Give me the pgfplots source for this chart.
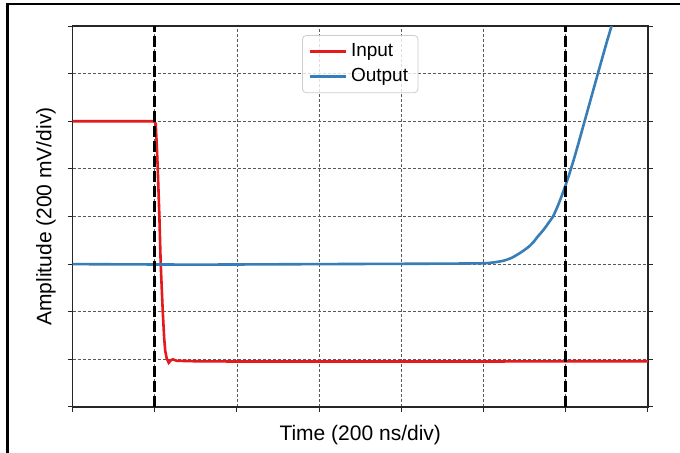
\documentclass[border=0pt]{standalone}
\usepackage{fontspec}
\setmainfont{Liberation Sans}
\usepackage{pgfplots}
\pgfplotsset{compat=1.18}

\definecolor{inred}{RGB}{228,26,28}
\definecolor{outblue}{RGB}{55,126,184}

\begin{document}
\begin{tikzpicture}
% page frame of the reference (1px = 0.5pt)
\useasboundingbox (-36.25pt,-23pt) rectangle (303.75pt,203.5pt);
\fill[white] (-36.25pt,-23pt) rectangle (303.75pt,203.5pt);
\draw[line width=1.4pt] (-32.5pt,-23pt) -- (-32.5pt,201.5pt) -- (303.75pt,201.5pt);
\begin{axis}[
    at={(0,0)}, anchor=south west,
    scale only axis,
    width=287.75pt, height=190.5pt,
    xmin=0, xmax=7,
    ymin=0, ymax=8,
    xtick={0,1,...,7},
    ytick={0,1,...,8},
    xticklabels={}, yticklabels={},
    tick align=outside,
    xtick pos=bottom,
    ytick pos=both,
    major tick length=2.5pt,
    tick style={black!85, line width=0.5pt},
    axis line style={black!85, line width=0.6pt},
    grid=major,
    grid style={black!65, line width=0.4pt, dash pattern=on 1.5pt off 1pt},
    clip=true,
    font=\fontsize{10.5}{12}\selectfont,
    xlabel={Time (200 ns/div)},
    ylabel={Amplitude (200 mV/div)},
    xlabel style={at={(axis description cs:0.5,-0.0735)}, anchor=center},
    ylabel style={at={(axis description cs:-0.046,0.5)}, anchor=center},
    legend cell align=left,
    legend image code/.code={\draw[#1] (0pt,0pt) -- (18pt,0pt);},
    legend style={at={(0.5,1)}, yshift=-4.5pt, anchor=north,
        draw=black!20, fill=white, fill opacity=0.8, text opacity=1,
        rounded corners=2pt,
        font=\fontsize{9.5}{11}\selectfont,
        inner xsep=3pt, inner ysep=2pt, row sep=0.5pt,
        nodes={inner sep=2pt}},
]
\addplot[inred, line width=1.3pt] coordinates {
    (0,6.0) (0.99,6.0) (1.012,5.95) (1.025,5.5) (1.037,5.0) (1.057,3.99)
    (1.073,3.0) (1.098,2.0) (1.115,1.45) (1.128,1.18) (1.146,1.02)
    (1.171,0.93) (1.195,0.98) (1.22,1.0) (1.268,0.97) (1.5,0.96)
    (2,0.955) (3,0.955) (4,0.955) (5,0.955) (6,0.96) (7,0.96)
};
\addlegendentry{Input}
\addplot[outblue, line width=1.3pt, smooth, tension=0.35] coordinates {
    (0,3.0) (1.5,2.99) (3,3.0) (4.5,3.01) (4.9,3.015) (5.03,3.02)
    (5.12,3.035) (5.24,3.07) (5.34,3.13) (5.44,3.23) (5.5,3.30)
    (5.56,3.38) (5.61,3.47) (5.66,3.58) (5.71,3.68) (5.76,3.79)
    (5.8,3.89) (5.845,4.0) (5.9,4.21) (5.95,4.43) (6.0,4.67)
    (6.05,4.93) (6.1,5.21) (6.15,5.51) (6.2,5.82) (6.3,6.44)
    (6.4,7.06) (6.5,7.67) (6.557,8.0)
};
\addlegendentry{Output}
\addplot[black, line width=1.5pt, dash pattern=on 5.5pt off 2pt, forget plot]
    coordinates {(1,0) (1,8)};
\addplot[black, line width=1.5pt, dash pattern=on 5.5pt off 2pt, forget plot]
    coordinates {(6,0) (6,8)};
\end{axis}
\end{tikzpicture}
\end{document}
